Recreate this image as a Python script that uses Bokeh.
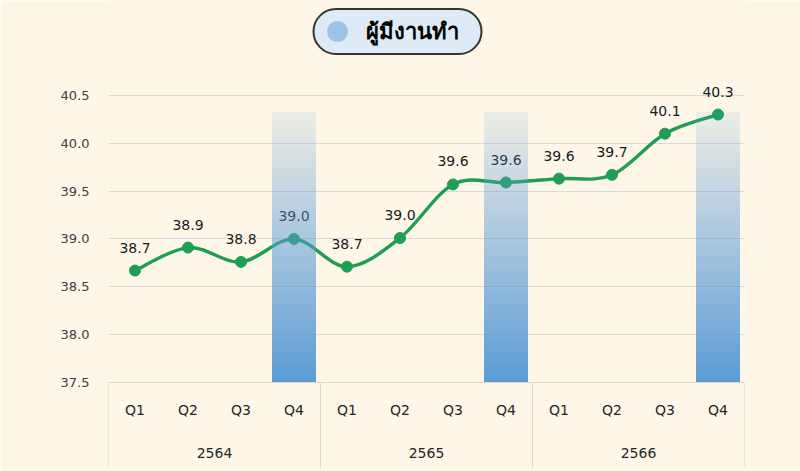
import numpy as np
from bokeh.plotting import figure
from bokeh.models import (FactorRange, Range1d, LinearAxis, FixedTicker,
                          ColumnDataSource, Label, BoxAnnotation, NumeralTickFormatter)
from bokeh.embed import file_html
from bokeh.resources import INLINE
from bokeh.core.properties import value

# ---------------- data ----------------
years = ["2564", "2565", "2566"]
quarters = ["Q1", "Q2", "Q3", "Q4"]
employed = [38.67, 38.91, 38.76, 39.00, 38.71, 39.01, 39.57, 39.59, 39.63, 39.67, 40.10, 40.30]
highlight_quarter = "Q4"
highlight_top = [40.33, 40.33, 40.33]
y_ticks = [37.5, 38.0, 38.5, 39.0, 39.5, 40.0, 40.5]
title_text = "ผู้มีงานทำ"

# ---------------- style / layout ----------------
W, H = 800, 471
FL, FR, FT, FB = 108, 744, 71, 382      # pixel box of the value area
Y0, Y1 = 37.5, 40.75                     # values at FB / FT
CREAM = "#FEF7E8"
GREEN = "#1E9E52"
BLUE_RGB = (91, 155, 213)
GRID = "#D9D9D9"
FONT = "DejaVu Sans"
YEAR_ROW_PX = 452

factors = [(y, q) for y in years for q in quarters]
n = len(factors)


def sx(px):
    return (px - FL) / (FR - FL) * n


def dy(py):
    return Y0 + (FB - py) / (FB - FT) * (Y1 - Y0)


p = figure(width=W, height=H,
           x_range=FactorRange(*factors, factor_padding=0, group_padding=0,
                               subgroup_padding=0, range_padding=0),
           y_range=Range1d(dy(H), dy(0)), output_backend="svg", toolbar_location=None,
           min_border_left=FL, min_border_right=W - FR,
           min_border_top=0, min_border_bottom=0)
p.background_fill_color = CREAM
p.border_fill_color = CREAM
p.outline_line_color = None

# grid
p.xgrid.grid_line_color = None
p.ygrid.grid_line_color = GRID
p.ygrid.grid_line_width = 1

# y axis
ya = p.yaxis[0]
ya.ticker = FixedTicker(ticks=y_ticks)
ya.formatter = NumeralTickFormatter(format="0.0")
ya.axis_line_color = None
ya.major_tick_line_color = None
ya.minor_tick_line_color = None
ya.major_label_text_font = FONT
ya.major_label_text_font_size = "13px"
ya.major_label_text_color = "#404040"
ya.major_label_standoff = 13

# categorical x axis (quarter row), drawn at the bottom of the value area
xa = p.xaxis[0]
xa.fixed_location = Y0
xa.axis_line_color = None
xa.major_tick_line_color = None
xa.minor_tick_line_color = None
xa.separator_line_color = None
xa.major_label_text_font = FONT
xa.major_label_text_font_size = "14px"
xa.major_label_text_color = "#262626"
xa.major_label_standoff = 13
xa.group_text_color = None

# year row, centred on each year group of the factor range
p.text(x=years, y=[dy(YEAR_ROW_PX)] * len(years), text=years,
       text_align="center", text_baseline="middle",
       text_font=value(FONT), text_font_size="14px", text_color="#262626")

# box lines of the axis area
boundaries = [len(quarters) * i for i in range(len(years) + 1)]
bx = LinearAxis(ticker=FixedTicker(ticks=boundaries),
                fixed_location=Y0, major_tick_out=85, major_tick_in=0,
                minor_tick_out=0, minor_tick_in=0,
                major_tick_line_color=GRID, axis_line_color=GRID,
                major_label_text_alpha=0, major_label_text_font_size="1px")
p.add_layout(bx, "below")

# smooth line (cubic bezier through every point)
xs = [i + 0.5 for i in range(n)]
ex = [xs[0]] + xs + [xs[-1]]
ey = [employed[0]] + employed + [employed[-1]]
bz = dict(x0=[], y0=[], x1=[], y1=[], cx0=[], cy0=[], cx1=[], cy1=[])
for i in range(n - 1):
    xa_, ya_ = ex[i], ey[i]
    xb, yb = ex[i + 1], ey[i + 1]
    xc, yc = ex[i + 2], ey[i + 2]
    xd, yd = ex[i + 3], ey[i + 3]
    bz["x0"].append(xb); bz["y0"].append(yb)
    bz["x1"].append(xc); bz["y1"].append(yc)
    bz["cx0"].append(xb + (xc - xa_) / 6); bz["cy0"].append(yb + (yc - ya_) / 6)
    bz["cx1"].append(xc - (xd - xb) / 6); bz["cy1"].append(yc - (yd - yb) / 6)
p.bezier(x0="x0", y0="y0", x1="x1", y1="y1", cx0="cx0", cy0="cy0", cx1="cx1", cy1="cy1",
         source=ColumnDataSource(bz), line_color=GREEN, line_width=3.4)

src = ColumnDataSource(dict(x=factors, y=employed, t=[f"{v:.1f}" for v in employed]))
p.scatter(x="x", y="y", source=src, size=11, fill_color=GREEN, line_color=GREEN)
p.text(x="x", y="y", text="t", source=src, text_align="center", text_baseline="bottom",
       y_offset=-18, text_font=value(FONT), text_font_size="14px", text_color="#1A1A1A")

# gradient highlight columns (blue, fading upward)
M = 256
grad = np.zeros((M, 1, 4), dtype=np.uint8)
grad[:, 0, 0], grad[:, 0, 1], grad[:, 0, 2] = BLUE_RGB
grad[:, 0, 3] = (255 * (1.0 - 0.9 * (np.arange(M) + 0.5) / M)).astype(np.uint8)
grad_img = grad.view(np.uint32).reshape(M, 1)
bar_w = 0.83
hi = [factors.index((yr, highlight_quarter)) for yr in years]
p.image_rgba(image=[grad_img] * len(hi),
             x=[i + 0.5 - bar_w / 2 for i in hi], y=[Y0] * len(hi),
             dw=[bar_w] * len(hi), dh=[t - Y0 for t in highlight_top])

# title pill
title = Label(x=sx(313), y=dy(31), text=title_text,
              text_align="left", text_baseline="middle",
              text_font=FONT, text_font_size="22px", text_font_style="bold",
              text_color="black", background_fill_color="#DEEBF7",
              border_line_color="#333333", border_line_width=2, border_radius=23,
              padding=dict(left=52, right=23, top=10, bottom=10))
p.add_layout(title)
dot = BoxAnnotation(left=sx(326.5), right=sx(347.5), top=dy(20.5), bottom=dy(41.5),
                    fill_color="#9DC3E6", fill_alpha=1,
                    line_color=None, border_radius=11)
p.add_layout(dot)

open("out.html", "w").write(file_html(p, INLINE))
